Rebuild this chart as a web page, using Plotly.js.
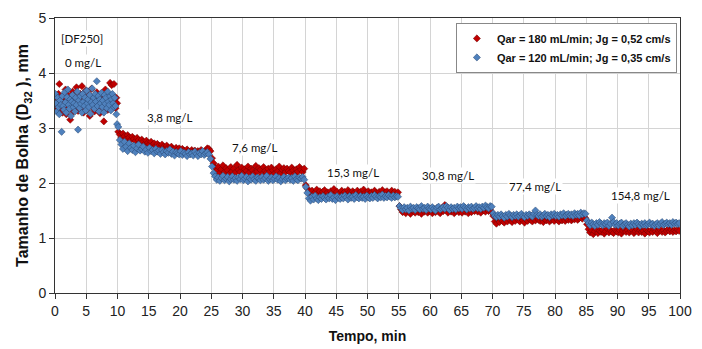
<!DOCTYPE html>
<html>
<head>
<meta charset="utf-8">
<script src="https://cdn.plot.ly/plotly-3.0.1.min.js"></script>
<style>html,body{margin:0;padding:0;background:#fff;}#chart{width:702px;height:349px;}</style>
</head>
<body>
<div id="chart"></div>
<script>
// ---- Data (bubble size D32, mm) per concentration step ----
const seriesNames = ["Qar = 180 mL/min; Jg = 0,52 cm/s", "Qar = 120 mL/min; Jg = 0,35 cm/s"];
const segmentStarts = [0, 10, 25, 40, 55, 70, 85];   // min
const segmentEnd = 100;
const concLabels = ["0 mg/L", "3,8 mg/L", "7,6 mg/L", "15,3 mg/L", "30,8 mg/L", "77,4 mg/L", "154,8 mg/L"];
const xTicks = [0,5,10,15,20,25,30,35,40,45,50,55,60,65,70,75,80,85,90,95,100];

// Qar = 180 mL/min (red)
const red_0 = [3.40,3.55,3.32,3.48,3.62,3.80,3.45,3.36,3.52,3.28,3.44,3.58,3.38,3.70,3.25,3.49,3.60,3.34,3.46,3.15,
  3.53,3.41,3.66,3.30,3.47,3.57,3.39,3.74,3.43,3.31,3.55,3.48,3.62,3.36,3.76,3.44,3.28,3.52,3.40,3.68,
  3.33,3.50,3.45,3.60,3.22,3.48,3.71,3.38,3.54,3.42,3.30,3.58,3.46,3.65,3.35,3.49,3.56,3.27,3.43,3.62,
  3.38,3.52,3.12,3.47,3.70,3.40,3.55,3.33,3.60,3.45,3.82,3.50,3.78,3.42,3.58,3.80,3.48,3.36,3.55,3.45];
const red_38 = [2.93,2.88,2.82,2.90,2.85,2.80,2.87,2.83,2.78,2.84,2.80,2.76,2.82,2.78,2.74,2.79,2.75,2.71,2.77,2.73,
  2.70,2.75,2.69,2.72,2.67,2.71,2.68,2.65,2.70,2.66,2.63,2.68,2.64,2.61,2.66,2.62,2.59,2.64,2.60,2.63,
  2.58,2.62,2.59,2.56,2.61,2.58,2.55,2.60,2.57,2.59,2.55,2.58,2.56,2.60,2.57,2.54,2.59,2.63,2.62,2.58];
const red_76 = [2.45,2.36,2.28,2.22,2.30,2.18,2.25,2.32,2.20,2.27,2.23,2.16,2.29,2.21,2.26,2.19,2.33,2.24,2.20,2.28,
  2.17,2.25,2.22,2.30,2.19,2.26,2.23,2.18,2.31,2.21,2.27,2.24,2.16,2.29,2.22,2.19,2.26,2.20,2.28,2.23,
  2.17,2.25,2.21,2.30,2.18,2.24,2.27,2.20,2.26,2.22,2.19,2.28,2.23,2.17,2.25,2.21,2.29,2.24,2.20,2.26];
const red_153 = [1.96,1.90,1.84,1.80,1.86,1.78,1.83,1.88,1.81,1.85,1.79,1.84,1.87,1.80,1.83,1.77,1.85,1.82,1.89,1.80,
  1.84,1.78,1.82,1.86,1.81,1.84,1.79,1.87,1.83,1.80,1.85,1.82,1.78,1.86,1.81,1.84,1.80,1.88,1.82,1.79,
  1.85,1.81,1.83,1.78,1.86,1.82,1.80,1.84,1.81,1.87,1.79,1.83,1.85,1.80,1.82,1.86,1.81,1.84,1.79,1.83];
const red_308 = [1.58,1.52,1.47,1.50,1.45,1.53,1.48,1.44,1.51,1.49,1.46,1.52,1.47,1.50,1.44,1.53,1.48,1.51,1.46,1.49,
  1.52,1.45,1.50,1.47,1.54,1.48,1.45,1.51,1.49,1.60,1.50,1.46,1.53,1.48,1.51,1.45,1.49,1.52,1.47,1.50,
  1.46,1.53,1.48,1.51,1.45,1.50,1.47,1.52,1.49,1.54,1.48,1.51,1.46,1.53,1.50,1.48,1.52,1.49,1.51,1.47];
const red_774 = [1.40,1.30,1.26,1.33,1.29,1.35,1.31,1.28,1.34,1.30,1.36,1.32,1.29,1.34,1.31,1.37,1.33,1.30,1.35,1.32,
  1.28,1.34,1.31,1.36,1.33,1.30,1.35,1.32,1.38,1.33,1.31,1.35,1.29,1.34,1.32,1.36,1.30,1.33,1.35,1.31,
  1.37,1.33,1.30,1.34,1.32,1.36,1.31,1.35,1.33,1.38,1.32,1.35,1.34,1.37,1.33,1.36,1.39,1.35,1.38,1.36];
const red_1548 = [1.25,1.16,1.10,1.14,1.07,1.12,1.16,1.09,1.13,1.11,1.15,1.08,1.12,1.17,1.10,1.14,1.11,1.09,1.15,1.12,
  1.10,1.14,1.08,1.13,1.16,1.11,1.14,1.10,1.13,1.15,1.09,1.12,1.16,1.10,1.14,1.11,1.13,1.08,1.15,1.12,
  1.10,1.14,1.11,1.16,1.12,1.09,1.13,1.15,1.11,1.14,1.10,1.13,1.16,1.12,1.15,1.11,1.14,1.12,1.15,1.13];

// Qar = 120 mL/min (blue)
const blue_0 = [3.62,3.45,3.30,3.55,3.38,3.25,3.50,3.42,2.93,3.58,3.40,3.33,3.65,3.47,3.28,3.56,3.70,3.42,3.35,3.52,
  3.22,3.48,3.60,3.38,3.45,3.30,3.55,3.42,3.66,2.97,3.50,3.36,3.58,3.44,3.28,3.62,3.48,3.40,3.55,3.32,
  3.68,3.45,3.52,3.38,3.60,3.26,3.47,3.72,3.42,3.55,3.35,3.62,3.48,3.85,3.40,3.58,3.30,3.52,3.45,3.64,
  3.38,3.50,3.28,3.60,3.44,3.55,3.36,3.66,3.48,3.42,3.58,3.32,3.52,3.62,3.45,3.38,3.55,3.40,3.25,3.07];
const blue_38 = [3.02,2.78,2.70,2.62,2.75,2.66,2.58,2.72,2.64,2.60,2.68,2.56,2.63,2.70,2.59,2.62,2.66,2.57,2.61,2.55,
  2.64,2.58,2.60,2.54,2.62,2.57,2.59,2.53,2.60,2.56,2.52,2.58,2.55,2.61,2.53,2.57,2.50,2.56,2.54,2.52,
  2.58,2.51,2.55,2.53,2.49,2.56,2.52,2.54,2.50,2.57,2.53,2.49,2.55,2.52,2.58,2.51,2.54,2.56,2.52,2.44];
const blue_76 = [2.30,2.18,2.12,2.06,2.10,2.04,2.09,2.13,2.05,2.08,2.11,2.03,2.07,2.12,2.06,2.09,2.04,2.10,2.07,2.13,
  2.05,2.08,2.11,2.03,2.09,2.06,2.12,2.07,2.04,2.10,2.08,2.05,2.11,2.06,2.09,2.13,2.04,2.07,2.10,2.05,
  2.08,2.12,2.06,2.09,2.03,2.07,2.11,2.05,2.08,2.10,2.06,2.09,2.04,2.12,2.07,2.05,2.10,2.08,2.11,2.06];
const blue_153 = [1.93,1.82,1.72,1.68,1.75,1.70,1.77,1.72,1.69,1.74,1.71,1.76,1.73,1.70,1.75,1.72,1.78,1.71,1.74,1.69,
  1.76,1.73,1.71,1.75,1.72,1.77,1.74,1.70,1.76,1.73,1.75,1.71,1.78,1.74,1.72,1.76,1.73,1.75,1.71,1.77,
  1.74,1.72,1.76,1.73,1.78,1.75,1.72,1.76,1.74,1.79,1.73,1.76,1.74,1.78,1.75,1.73,1.77,1.74,1.76,1.75];
const blue_308 = [1.58,1.54,1.51,1.56,1.52,1.55,1.50,1.57,1.53,1.55,1.51,1.56,1.54,1.52,1.58,1.53,1.55,1.51,1.57,1.54,
  1.52,1.56,1.53,1.50,1.55,1.57,1.52,1.54,1.56,1.53,1.58,1.55,1.51,1.56,1.53,1.55,1.52,1.57,1.54,1.56,
  1.53,1.58,1.55,1.52,1.56,1.54,1.57,1.53,1.55,1.58,1.54,1.56,1.53,1.57,1.55,1.59,1.56,1.54,1.58,1.57];
const blue_774 = [1.45,1.40,1.38,1.42,1.39,1.43,1.40,1.37,1.42,1.39,1.44,1.41,1.38,1.42,1.40,1.43,1.39,1.41,1.44,1.40,
  1.38,1.42,1.40,1.43,1.41,1.39,1.44,1.50,1.42,1.40,1.43,1.39,1.41,1.44,1.40,1.42,1.38,1.43,1.41,1.44,
  1.40,1.42,1.39,1.43,1.41,1.45,1.40,1.42,1.44,1.41,1.43,1.40,1.45,1.42,1.44,1.41,1.46,1.43,1.45,1.44];
const blue_1548 = [1.32,1.27,1.23,1.28,1.25,1.22,1.27,1.24,1.29,1.26,1.23,1.27,1.25,1.28,1.22,1.26,1.37,1.29,1.24,1.27,
  1.23,1.26,1.28,1.22,1.25,1.27,1.24,1.21,1.26,1.23,1.27,1.24,1.28,1.25,1.22,1.26,1.24,1.27,1.23,1.25,
  1.28,1.24,1.26,1.22,1.25,1.27,1.23,1.26,1.29,1.24,1.26,1.28,1.25,1.27,1.24,1.29,1.26,1.28,1.25,1.27];

const redSegments = [red_0, red_38, red_76, red_153, red_308, red_774, red_1548];
const blueSegments = [blue_0, blue_38, blue_76, blue_153, blue_308, blue_774, blue_1548];

// readings are evenly spaced in time within each concentration step
function buildSeries(segs) {
  const xs = [], ys = [];
  segs.forEach((vals, k) => {
    const start = segmentStarts[k];
    const end = k + 1 < segmentStarts.length ? segmentStarts[k + 1] : segmentEnd;
    const dt = (end - start) / vals.length;
    vals.forEach((v, i) => { xs.push(start + dt * (i + 0.5)); ys.push(v); });
  });
  return {xs, ys};
}
const R = buildSeries(redSegments);
const B = buildSeries(blueSegments);

const traces = [
  {x: R.xs, y: R.ys, name: seriesNames[0], type: 'scatter', mode: 'markers',
   marker: {symbol: 'diamond', size: 5.5, color: '#C00000', line: {color: '#6b0000', width: 0.5}}},
  {x: B.xs, y: B.ys, name: seriesNames[1], type: 'scatter', mode: 'markers',
   marker: {symbol: 'diamond', size: 5.5, color: '#4F81BD', line: {color: '#27456e', width: 0.5}}}
];

// label positions (layout)
const labelPos = [[4.5, 4.2], [18.4, 3.2], [32, 2.65], [47.7, 2.2], [62.9, 2.13], [76.8, 1.93], [93.6, 1.78]];
const annFont = {family: 'Lato, "Open Sans", sans-serif', size: 11.5, color: '#111'};
const annotations = concLabels.map((t, i) => ({
  x: labelPos[i][0], y: labelPos[i][1], xref: 'x', yref: 'y', text: t, showarrow: false,
  font: annFont, bgcolor: '#ffffff', borderpad: 1
}));
annotations.push({x: 4.3, y: 4.62, xref: 'x', yref: 'y', text: '[DF250]', showarrow: false, font: annFont, bgcolor: '#ffffff'});

const axisFont = '"Liberation Sans", Arial, sans-serif';
const layout = {
  width: 702, height: 349,
  margin: {l: 55, r: 22, t: 18, b: 56},
  paper_bgcolor: '#fff', plot_bgcolor: '#fff',
  showlegend: true,
  legend: {x: 0.995, y: 0.982, xanchor: 'right', yanchor: 'top', bgcolor: '#fff',
    bordercolor: '#888', borderwidth: 1, tracegroupgap: 0, itemwidth: 30,
    font: {family: axisFont, size: 11, color: '#111', weight: 'bold'}},
  xaxis: {range: [0, 100], tickvals: xTicks, ticks: 'outside', ticklen: 5, tickcolor: '#333',
    showline: true, linecolor: '#333', linewidth: 1, mirror: true, automargin: false,
    showgrid: true, gridcolor: '#d4d4d4', gridwidth: 1, zeroline: false,
    tickfont: {family: axisFont, size: 14, color: '#222'},
    title: {text: 'Tempo, min', font: {family: axisFont, size: 14, color: '#111', weight: 'bold'}, standoff: 13}},
  yaxis: {range: [0, 5], dtick: 1, ticks: 'outside', ticklen: 5, tickcolor: '#333',
    showline: true, linecolor: '#333', linewidth: 1, mirror: true, automargin: false,
    showgrid: true, gridcolor: '#d4d4d4', gridwidth: 1, zeroline: false,
    tickfont: {family: axisFont, size: 14, color: '#222'},
    title: {text: 'Tamanho de Bolha (D<sub>32</sub> ), mm', font: {family: axisFont, size: 16, color: '#111', weight: 'bold'}, standoff: 5}},
  annotations: annotations
};

Plotly.newPlot('chart', traces, layout, {displayModeBar: false, staticPlot: true});
</script>
</body>
</html>
